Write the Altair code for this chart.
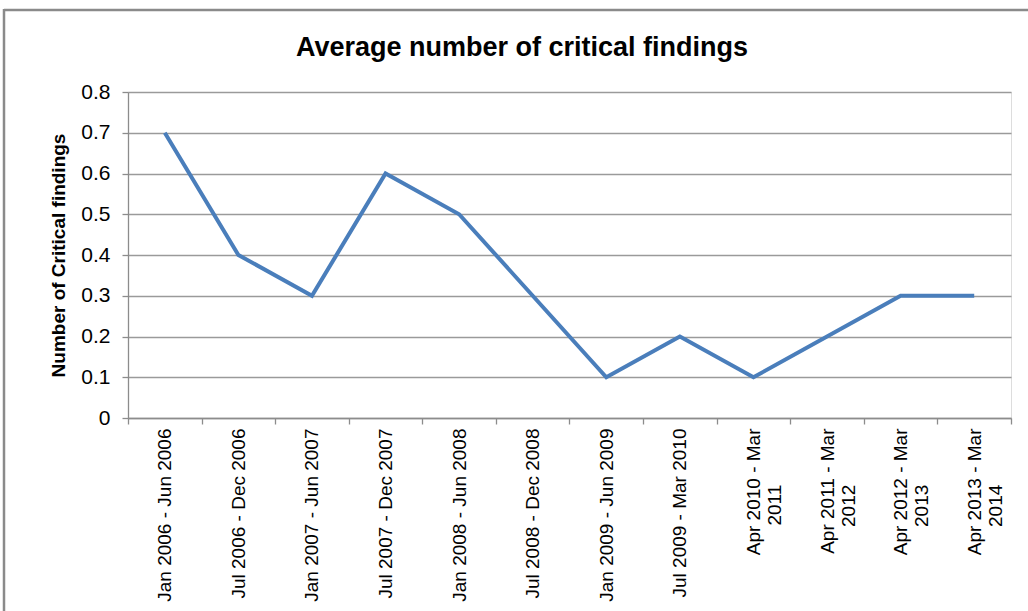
import altair as alt
import pandas as pd

chart_title = "Average number of critical findings"
periods = [
    "Jan 2006 - Jun 2006",
    "Jul 2006 - Dec 2006",
    "Jan 2007 - Jun 2007",
    "Jul 2007 - Dec 2007",
    "Jan 2008 - Jun 2008",
    "Jul 2008 - Dec 2008",
    "Jan 2009 - Jun 2009",
    "Jul 2009 - Mar 2010",
    "Apr 2010 - Mar|2011",
    "Apr 2011 - Mar|2012",
    "Apr 2012 - Mar|2013",
    "Apr 2013 - Mar|2014",
]
avg_critical = [0.7, 0.4, 0.3, 0.6, 0.5, 0.3, 0.1, 0.2, 0.1, 0.2, 0.3, 0.3]
y_ticks = [0, 0.1, 0.2, 0.3, 0.4, 0.5, 0.6, 0.7, 0.8]

df = pd.DataFrame({"period": periods, "value": avg_critical})

FONT = "Liberation Sans"
GRAY = "#8c8c8c"
PAD = "\u00a0" * 8 + "\u2800"

label_expr = (
    "indexof(datum.label, '|') >= 0 ? "
    "[split(datum.label, '|')[0], split(datum.label, '|')[1] + '" + PAD + "'] : datum.label"
)

line = alt.Chart(df).mark_line(color="#4A7EBB", strokeWidth=4).encode(
    x=alt.X(
        "period:N",
        sort=periods,
        bandPosition=0.5,
        scale=alt.Scale(type="band", paddingInner=0, paddingOuter=0),
        axis=alt.Axis(
            title=None,
            labelAngle=270,
            labelAlign="right",
            labelBaseline="middle",
            labelFontSize=19,
            labelFont=FONT,
            labelColor="#000000",
            labelPadding=4,
            labelExpr=label_expr,
            labelOverlap=False,
            labelLimit=300,
            tickBand="extent",
            tickSize=6,
            tickColor=GRAY,
            domainColor=GRAY,
            domainWidth=1.3,
            tickWidth=1.3,
            grid=False,
        ),
    ),
    y=alt.Y(
        "value:Q",
        scale=alt.Scale(domain=[0, 0.8], nice=False, zero=True),
        axis=alt.Axis(
            title="Number of Critical findings",
            titleFont=FONT,
            titleFontSize=19,
            titleFontWeight="bold",
            titleColor="#000000",
            titleX=-70,
            titleY=163,
            titleAngle=270,
            titleAlign="center",
            titleBaseline="middle",
            values=y_ticks,
            labelExpr="datum.value == 0 ? '0' : format(datum.value, '.1f')",
            labelFont=FONT,
            labelFontSize=21,
            labelColor="#000000",
            labelPadding=12,
            tickSize=6,
            tickColor=GRAY,
            tickWidth=1.3,
            domainColor=GRAY,
            domainWidth=1.3,
            grid=True,
            gridColor="#9a9a9a",
            gridWidth=1.4,
        ),
    ),
)

one_row = alt.Data(values=[{"t": chart_title}])
title_text = alt.Chart(one_row).mark_text(
    font=FONT, fontSize=27, fontWeight="bold", color="#000000",
    align="center", baseline="alphabetic",
).encode(text="t:N", x=alt.value(394), y=alt.value(-36))

top_rule = alt.Chart(one_row).mark_rule(color="#8a8a8a", strokeWidth=2.5).encode(
    x=alt.value(-124), x2=alt.value(920), y=alt.value(-82)
)
left_rule = alt.Chart(one_row).mark_rule(color="#8a8a8a", strokeWidth=2.5).encode(
    x=alt.value(-124), y=alt.value(-83), y2=alt.value(530)
)

chart = (
    alt.layer(line, title_text, top_rule, left_rule)
    .properties(
        width=883,
        height=326,
        autosize=alt.AutoSizeParams(type="none"),
        padding={"left": 128, "top": 92, "right": 17, "bottom": 193},
    )
    .configure_view(stroke=None)
    .configure(background="white")
)

chart.save("out.html", embed_options={"renderer": "svg", "actions": False})
